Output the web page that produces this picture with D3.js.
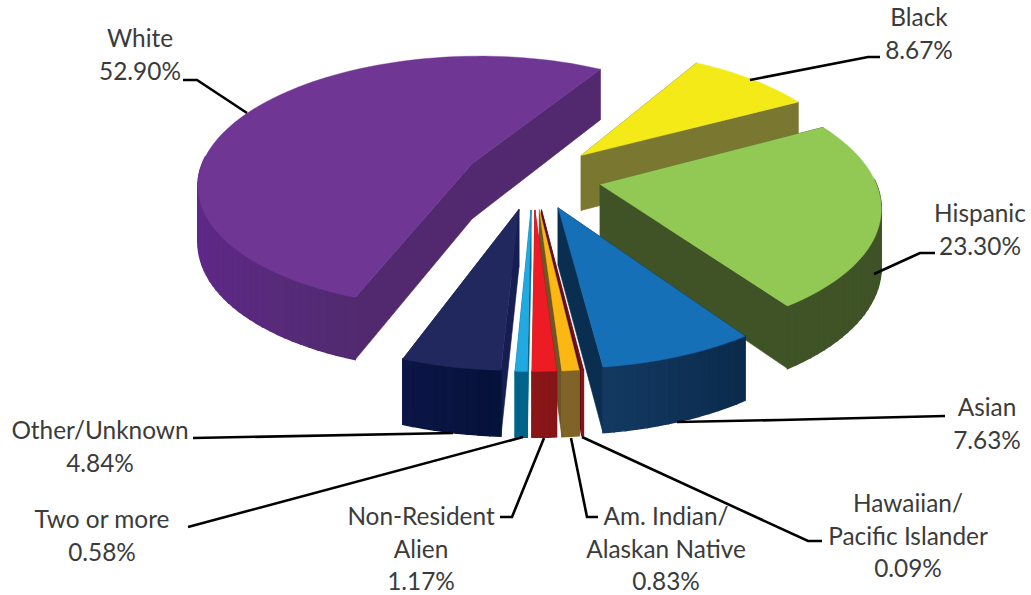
<!DOCTYPE html>
<html>
<head>
<meta charset="utf-8">
<script src="https://cdn.jsdelivr.net/npm/d3@7"></script>
<style>
    html, body { margin: 0; background: #fff; }
    svg { display: block; }
    text { font-family: Lato, "Open Sans", sans-serif; font-size: 24.4px; fill: #3b3b3b; }
</style>
</head>
<body>
<div id="graph"></div>
<script>
const categories = ["Black", "Hispanic", "Asian", "Hawaiian/Pacific Islander", "Am. Indian/Alaskan Native",
    "Non-Resident Alien", "Two or more", "Other/Unknown", "White"];
const values = [8.67, 23.30, 7.63, 0.09, 0.83, 1.17, 0.58, 4.84, 52.90];

const topColors = ["#f4ea18", "#92c955", "#1570b8", "#7a1418", "#fbb812", "#ed1c24", "#21aae1", "#20285e", "#6f3694"];
const cutColors = ["#7a7730", "#3f5327", "#0a2e4f", "#5a0a10", "#6e5426", "#8d1619", "#00648a", "#161d52", "#52286f"];
const wallLeft = ["#7a7730", "#3f5327", "#153a63", "#8a1218", "#7f6327", "#8d1619", "#00648a", "#0d1647", "#60298a"];
const wallRight = ["#7a7730", "#3f5327", "#0a2b4c", "#8a1218", "#7f6327", "#851517", "#00648a", "#05123a", "#512a70"];

const labelLines = [
    ["Black"], ["Hispanic"], ["Asian"], ["Hawaiian/", "Pacific Islander"], ["Am. Indian/", "Alaskan Native"],
    ["Non-Resident", "Alien"], ["Two or more"], ["Other/Unknown"], ["White"]
];
// centre x and first baseline of each label
const labelX = [919, 980, 987, 908, 666, 421, 102, 100, 140];
const labelY = [26, 222, 416, 512, 525, 525, 528, 439, 47];
const leaders = [
    [[880, 57], [868, 57], [750, 80]],
    [[935, 253], [920, 253], [874, 274]],
    [[945, 416], [780, 420], [677, 422]],
    [[822, 541], [808, 541], [582, 437]],
    [[598, 517], [587, 517], [571, 438]],
    [[500, 517], [512, 517], [544, 438]],
    [[188, 527], [523, 437]],
    [[193, 438], [453, 433]],
    [[183, 80], [197, 80], [247, 113]]
];

const width = 1031, height = 595;
const svg = d3.select("#graph").append("svg")
    .attr("width", width)
    .attr("height", height);

const xScale = d3.scaleLinear().domain([-1, 1]).range([533 - 274, 533 + 274]);
const yScale = d3.scaleLinear().domain([-1, 1]).range([177 - 127, 177 + 127]);

const explode = 0.25;   // every slice is pulled out by the same amount
const persp = 0.147;
const thick = 56;

function scaleAt(v) { return 1 / (1 - persp * v); }

// ground plane to screen; v grows towards the viewer
function project(u, v, down) {
    const s = scaleAt(v);
    return [
        xScale(0) + (xScale(u) - xScale(0)) * s,
        yScale(0) + (yScale(v) - yScale(0)) * s + (down ? thick * Math.pow(s, 0.8) : 0)
    ];
}

const line = d3.line();
const startDeg = 30.5;
const pie = d3.pie().sort(null)
    .startAngle(startDeg * Math.PI / 180)
    .endAngle((startDeg + 360) * Math.PI / 180);

const slices = pie(values).map((d, i) => {
    const mid = (d.startAngle + d.endAngle) / 2;
    const apex = [explode * Math.sin(mid), -explode * Math.cos(mid)];
    const steps = Math.max(2, Math.ceil((d.endAngle - d.startAngle) / (2 * Math.PI / 180)));
    const rim = d3.range(steps + 1).map(k => {
        const a = d.startAngle + (d.endAngle - d.startAngle) * k / steps;
        return [apex[0] + Math.sin(a), apex[1] - Math.cos(a), a];
    });
    return { i, apex, rim };
});

function quad(a, b) {
    return [project(a[0], a[1]), project(b[0], b[1]), project(b[0], b[1], true), project(a[0], a[1], true)];
}

slices.slice().sort((a, b) => a.apex[1] - b.apex[1]).forEach(sl => {
    const g = svg.append("g").attr("class", "slice");
    const first = sl.rim[0], last = sl.rim[sl.rim.length - 1];
    const faces = [
        { pts: quad(sl.apex, first), depth: (sl.apex[1] + first[1]) / 2, fill: cutColors[sl.i], edge: 0.6 },
        { pts: quad(sl.apex, last), depth: (sl.apex[1] + last[1]) / 2, fill: cutColors[sl.i], edge: 0.6 }
    ];
    // outer wall, only the part that faces the viewer
    const front = d3.pairs(sl.rim).filter(p => Math.cos(p[0][2]) < 0.05);
    const uExt = d3.extent(front.flat(), p => p[0]);
    const shade = d3.scaleLinear().domain(uExt[0] === uExt[1] ? [0, 1] : uExt)
        .range([wallLeft[sl.i], wallRight[sl.i]]);
    front.forEach(p => {
        faces.push({ pts: quad(p[0], p[1]), depth: (p[0][1] + p[1][1]) / 2, fill: shade(p[0][0]), edge: 1.4 });
    });
    faces.sort((a, b) => a.depth - b.depth).forEach(f => {
        g.append("path")
            .attr("d", line(f.pts) + "Z")
            .attr("fill", f.fill)
            .attr("stroke", f.fill)
            .attr("stroke-width", f.edge);
    });
    const top = [project(sl.apex[0], sl.apex[1])].concat(sl.rim.map(p => project(p[0], p[1])));
    g.append("path")
        .attr("d", line(top) + "Z")
        .attr("fill", topColors[sl.i])
        .attr("stroke", topColors[sl.i])
        .attr("stroke-width", 0.4);
});

svg.selectAll("path.leader").data(leaders).join("path")
    .attr("class", "leader")
    .attr("d", d => line(d))
    .attr("fill", "none")
    .attr("stroke", "#000")
    .attr("stroke-width", 2.6);

categories.forEach((c, i) => {
    const rows = labelLines[i].concat([values[i].toFixed(2) + "%"]);
    const t = svg.append("text").attr("text-anchor", "middle");
    rows.forEach((r, k) => {
        t.append("tspan")
            .attr("x", labelX[i])
            .attr("y", labelY[i] + k * 32.7)
            .text(r);
    });
});
</script>
</body>
</html>
